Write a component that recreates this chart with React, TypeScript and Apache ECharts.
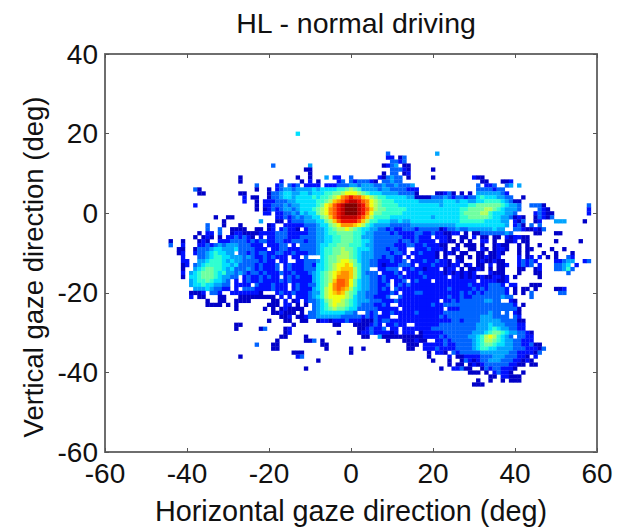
import React, { useEffect, useRef } from "react";
import * as echarts from "echarts";

const titleText = "HL - normal driving";
const xName = "Horizontal gaze direction (deg)";
const yName = "Vertical gaze direction (deg)";
const fontFamily = "Liberation Sans, Arial, sans-serif";
const jetLevels = ["#ffffff","#0000c8","#0010ff","#0064ff","#00a4ff","#00e0ff","#30ffd0","#70ffa0","#b0ff60","#f0ff10","#ffc800","#ff9000","#ff5800","#ee1000","#c00000","#800000"];

// [vertical deg, first horizontal deg, levels (hex, "." = empty)]
const gazeRuns: [number, number, string][] = [
[20,-13,"5"],
[15,9,"3"],[15,21,"4"],
[14,9,"22"],[14,12,"13"],
[13,10,"33"],[13,12,"23"],
[12,-19,"3"],[12,-10,"4"],[12,8,"12"],[12,10,"34"],[12,13,"11"],
[11,-11,"11"],[11,10,"333"],[11,13,"21"],[11,20,"1"],
[10,-10,"1"],[10,8,"1"],[10,10,"33"],[10,13,"12"],
[9,-27,"1"],[9,-13,"1"],[9,-10,"1"],[9,-6,"4"],[9,-4,"22"],[9,0,"3"],[9,7,"21"],[9,9,"3433"],[9,14,"1"],[9,20,"1"],[9,30,"211"],
[8,-27,"1"],[8,-17,"2"],[8,-12,"1"],[8,-10,"2"],[8,-8,"1"],[8,-3,"23"],[8,0,"32333"],[8,5,"21"],[8,8,"33433"],[8,32,"11"],[8,37,"112"],
[7,-23,"3"],[7,-18,"23"],[7,-15,"323"],[7,-11,"2222"],[7,-6,"22233344344"],[7,5,"43343343334"],[7,31,"3"],[7,33,"223"],[7,38,"34"],[7,41,"4"],
[6,-38,"3"],[6,-37,"1"],[6,-23,"1"],[6,-20,"1"],[6,-18,"2"],[6,-17,"34434444545"],[6,-6,"5556678"],[6,1,"7"],[6,2,"64444344333"],[6,13,"3222"],[6,31,"3333233"],
[5,-37,"11"],[5,-27,"11"],[5,-20,"1"],[5,-19,"334554455455"],[5,-7,"566778999876"],[5,5,"55544443333"],[5,16,"1"],[5,21,"11"],[5,23,"231"],[5,27,"1"],[5,29,"1"],[5,31,"44444432"],
[4,-26,"2"],[4,-24,"11"],[4,-20,"1"],[4,-19,"334554555565"],[4,-7,"66789bcdcca987"],[4,7,"665555544"],[4,16,"1111"],[4,20,"33343233233"],[4,31,"565554433"],[4,42,"1"],
[3,-26,"2"],[3,-23,"1"],[3,-21,"22233344555556"],[3,-7,"678abcdeedcb987"],[3,8,"66655555544444455545544556666"],[3,37,"543"],[3,40,"11"],
[2,-38,"2"],[2,-23,"1"],[2,-21,"2233343445555"],[2,-8,"679acdefffedb98"],[2,7,"76666555555555545555556677777765443"],[2,44,"33"],[2,46,"3"],[2,47,"1"],[2,58,"3"],
[1,-23,"1"],[1,-21,"12"],[1,-19,"32344345556"],[1,-8,"789bcdefffedca8"],[1,7,"7766666555555555555566777788765444"],[1,41,"3"],[1,46,"321"],[1,58,"2"],
[0,-21,"22"],[0,-18,"2233435455"],[0,-8,"789bcdefffedb9"],[0,6,"77666665555555555555567777886555443"],[0,45,"23211"],[0,58,"2"],
[-1,-33,"1"],[-1,-30,"11"],[-1,-18,"22323434455"],[-1,-7,"78acdeeeedca8"],[-1,6,"666655555555554555555667777765544"],[-1,39,"3"],[-1,40,"121"],[-1,45,"1"],[-1,46,"32"],[-1,48,"13"],
[-2,-31,"1"],[-2,-22,"4"],[-2,-18,"11"],[-2,-15,"233344455"],[-2,-6,"78acddddca8"],[-2,5,"6655544544555555555555666666555544"],[-2,40,"213"],[-2,45,"1"],[-2,46,"2"],[-2,50,"444"],[-2,57,"1"],
[-3,-35,"3"],[-3,-31,"1"],[-3,-27,"1"],[-3,-20,"1"],[-3,-19,"2"],[-3,-16,"22222"],[-3,-11,"333455"],[-3,-5,"789bbba986"],[-3,5,"5444433333444444444445555555555554"],[-3,40,"231"],[-3,44,"3"],[-3,46,"3"],
[-4,-35,"3"],[-4,-32,"3"],[-4,-29,"1111"],[-4,-23,"11"],[-4,-20,"12"],[-4,-17,"23221"],[-4,-11,"233445"],[-4,-5,"67889876"],[-4,3,"55443323223332333331233433444444544"],[-4,40,"332"],[-4,43,"1121"],[-4,47,"3"],
[-5,-37,"1"],[-5,-35,"22"],[-5,-32,"3"],[-5,-29,"122"],[-5,-26,"11"],[-5,-24,"11"],[-5,-22,"22"],[-5,-20,"223332222"],[-5,-11,"23344"],[-5,-6,"566777766"],[-5,3,"544333323222233223221122"],[-5,28,"1.1133333343"],[-5,45,"11"],[-5,50,"11"],
[-6,-38,"1"],[-6,-36,"121"],[-6,-32,"1"],[-6,-30,"22"],[-6,-28,"323"],[-6,-25,"2"],[-6,-24,"1"],[-6,-22,"2"],[-6,-20,"2"],[-6,-19,"23332223333"],[-6,-8,"44556677766"],[-6,3,"44433333332223222.2221..11.2.11.11.211"],[-6,40,"22"],[-6,42,"11"],
[-7,-44,"1"],[-7,-41,"1"],[-7,-37,"121"],[-7,-32,"2223333232332"],[-7,-19,"23322333"],[-7,-11,"23344556677766554"],[-7,6,"333333233232222.2211.1.1..22.1..11"],[-7,40,"2"],[-7,42,"11"],[-7,50,"1"],[-7,56,"1"],
[-8,-44,"3"],[-8,-41,"2"],[-8,-37,"22323434443332"],[-8,-23,"22"],[-8,-20,"22233"],[-8,-14,"2"],[-8,-12,"333345566777666544"],[-8,6,"333332223322322211..1.111.1."],[-8,35,"1211"],[-8,41,"1"],[-8,43,"1"],[-8,46,"1"],
[-9,-42,"11"],[-9,-38,"1"],[-9,-37,"333455444533"],[-9,-25,"3322"],[-9,-21,"2"],[-9,-19,"22332223"],[-9,-11,"33345667787765554"],[-9,6,"33323322..22232221.12..11.21.1221"],[-9,41,"1"],[-9,43,"11"],[-9,49,"1"],[-9,52,"1"],
[-10,-42,"12"],[-10,-38,"2"],[-10,-37,"334565544"],[-10,-27,"33232332"],[-10,-19,"23322322"],[-10,-11,"2334"],[-10,-7,"5667788765444"],[-10,6,"33332332.2232221.121.11..11.1121"],[-10,41,"1"],[-10,43,"1"],[-10,47,"1"],[-10,50,"1"],[-10,54,"1"],
[-11,-41,"2"],[-11,-37,"334566554443"],[-11,-25,"4322323"],[-11,-18,"222"],[-11,-14,"22"],[-11,-11,"3"],[-11,-7,"5677888765444"],[-11,6,"3323322.2.222221.1..11.1.112112"],[-11,41,"2"],[-11,43,"12"],[-11,46,"2"],[-11,48,"1"],[-11,50,"1"],[-11,53,"32"],
[-12,-41,"22"],[-12,-37,"445666545443333"],[-12,-22,"2322"],[-12,-17,"22"],[-12,-13,"223"],[-12,-10,"334"],[-12,-7,"5677899875443"],[-12,6,"32223223.2223223221.21"],[-12,31,"1211211"],[-12,41,"23232"],[-12,50,"22344"],[-12,57,"23"],
[-13,-41,"12"],[-13,-38,"34566665545333"],[-13,-24,"3232223.23222332"],[-13,-8,"5567899a97644"],[-13,5,"33212223332.2223222122.12.11.2.112"],[-13,41,"2323"],[-13,46,"2"],[-13,50,"3345"],[-13,55,"2"],
[-14,-41,"1"],[-14,-38,"456776654533"],[-14,-26,"3432322"],[-14,-19,"23.23222333"],[-14,-8,"556789aaa8644"],[-14,5,"..22333.223221222.122.1.1121.1"],[-14,36,"11"],[-14,41,"11"],[-14,45,"12"],[-14,50,"33463"],
[-15,-41,"2"],[-15,-39,"45677765644343"],[-15,-25,"23323222"],[-15,-17,"3223222"],[-15,-10,"34"],[-15,-8,"56789abba864"],[-15,4,"333.22232.22232222212121212...2111"],[-15,41,"1"],[-15,45,"1"],[-15,46,"1"],[-15,53,"3"],
[-16,-41,"1"],[-16,-39,"556777654433"],[-16,-26,"2322323"],[-16,-19,"22"],[-16,-16,"2323222"],[-16,-9,"4"],[-16,-8,"56789bbba8644"],[-16,5,"3323222322222322222.22121212112212"],[-16,40,"1"],[-16,46,"1"],
[-17,-39,"4566765543"],[-17,-28,"2"],[-17,-26,"2322"],[-17,-22,"3222232"],[-17,-15,"322222"],[-17,-9,"4"],[-17,-8,"5678accb97544"],[-17,5,"33232.223.23222.2222222222.2222112"],
[-18,-39,"4556554433"],[-18,-28,"22"],[-18,-26,"22"],[-18,-23,"3222322"],[-18,-16,"2.2322"],[-18,-10,"33"],[-18,-8,"5679bccb97544"],[-18,5,"33223.232322222222222222322223332.22"],[-18,44,"111"],
[-19,-38,"444543322"],[-19,-28,"2"],[-19,-26,"3332222"],[-19,-19,"3222"],[-19,-14,"23222"],[-19,-9,"4"],[-19,-8,"5689bcba8654"],[-19,4,"433232"],[-19,11,"3222222222"],[-19,21,"22232222"],[-19,29,"232323333"],[-19,38,"2"],[-19,40,"1"],[-19,42,"11"],[-19,45,"1"],[-19,50,"112"],
[-20,-39,"1112"],[-20,-34,"332"],[-20,-29,"22222221"],[-20,-18,"23"],[-20,-16,"2"],[-20,-15,"232"],[-20,-12,"22"],[-20,-10,"344"],[-20,-7,"689aba87644"],[-20,4,"33322232"],[-20,13,"22233222222"],[-20,24,"2223232323"],[-20,34,"3333"],[-20,38,"2"],[-20,40,"1"],[-20,42,"1"],[-20,44,"3"],[-20,51,"33"],
[-21,-39,"2"],[-21,-37,"11"],[-21,-32,"11"],[-21,-27,"11111111"],[-21,-19,"1"],[-21,-17,"2"],[-21,-15,"2"],[-21,-13,"222"],[-21,-10,"3"],[-21,-9,"4568999987544"],[-21,4,"332223"],[-21,12,"32222222222232232"],[-21,29,"233333334"],[-21,38,"33"],[-21,44,"3"],
[-22,-35,"1"],[-22,-32,"11"],[-22,-28,"1111"],[-22,-19,"11"],[-22,-16,"2"],[-22,-14,"12"],[-22,-11,"23"],[-22,-9,"34578998765444"],[-22,5,"3332223"],[-22,12,"2222222222"],[-22,23,"22323333"],[-22,31,"3344"],[-22,35,"33"],[-22,39,"2"],[-22,40,"1"],
[-23,-35,"1111"],[-23,-30,"1"],[-23,-28,"1"],[-23,-20,"111"],[-23,-16,"22"],[-23,-13,"1"],[-23,-11,"1"],[-23,-9,"3456898876543"],[-23,4,"332232"],[-23,12,"222222223"],[-23,21,"22333333333"],[-23,32,"333333"],[-23,38,"33"],[-23,40,"2"],[-23,42,"1"],
[-24,-28,"1"],[-24,-21,"1"],[-24,-19,"1"],[-24,-17,"1211"],[-24,-13,"11"],[-24,-9,"345678776553"],[-24,3,"33332"],[-24,8,"2222"],[-24,13,"2222222222"],[-24,24,"222333333"],[-24,33,"33333"],[-24,38,"33"],[-24,40,"3"],[-24,41,"1"],
[-25,-19,"112111"],[-25,-12,"1"],[-25,-10,"334555555443"],[-25,4,"323"],[-25,8,"2232"],[-25,12,"2222322222"],[-25,22,"23333333"],[-25,30,"3333433"],[-25,38,"3"],[-25,40,"2"],[-25,41,"1"],
[-26,-17,"112"],[-26,-13,"11"],[-26,-11,"2"],[-26,-10,"33444444333332"],[-26,4,"323222"],[-26,12,"2222222222"],[-26,22,"3233333"],[-26,29,"3334443333"],[-26,40,"3"],[-26,41,"2"],
[-27,-20,"1"],[-27,-16,"11"],[-27,-12,"11"],[-27,-8,"12212223222111"],[-27,6,"3233"],[-27,10,"2222222"],[-27,17,"22222222332"],[-27,28,"3333444443333"],[-27,41,"11"],
[-28,-28,"11"],[-28,-14,"1"],[-28,-4,"11"],[-28,1,"1111"],[-28,5,"232"],[-28,9,"223"],[-28,12,"22"],[-28,16,"222222"],[-28,22,"333333"],[-28,28,"333444544433"],[-28,40,"322"],
[-29,-28,"1"],[-29,-22,"1"],[-29,-21,"3"],[-29,-16,"12"],[-29,2,"112"],[-29,5,"3223"],[-29,10,"22"],[-29,13,"2222222"],[-29,20,"333333"],[-29,26,"33333444565443322"],
[-30,-16,"12"],[-30,-3,"1"],[-30,2,"1"],[-30,3,"22"],[-30,5,"322"],[-30,8,"221"],[-30,11,"2"],[-30,13,"222"],[-30,17,"1222223"],[-30,24,"333333444567765443321"],
[-31,-17,"11"],[-31,-11,"1"],[-31,3,"11"],[-31,7,"4"],[-31,8,"111111"],[-31,14,"1"],[-31,15,"1"],[-31,16,"11"],[-31,18,"22"],[-31,20,"223233"],[-31,26,"33344568986543"],[-31,41,"3322"],
[-32,-18,"1"],[-32,-11,"11"],[-32,-9,"3"],[-32,-7,"1"],[-32,9,"1"],[-32,13,"111"],[-32,16,"2"],[-32,17,"11"],[-32,21,"2232"],[-32,25,"33333"],[-32,30,"4568876544"],[-32,40,"33222"],
[-33,-23,"3"],[-33,-19,"11"],[-33,-7,"11"],[-33,14,"11"],[-33,16,"1"],[-33,18,"2222"],[-33,22,"2322"],[-33,26,"3333"],[-33,30,"4567765544"],[-33,40,"332231"],[-33,46,"1"],
[-34,-19,"11"],[-34,-6,"1"],[-34,0,"1"],[-34,3,"1"],[-34,14,"11"],[-34,18,"222322223"],[-34,27,"3334566554444"],[-34,40,"3332221"],[-34,47,"3"],
[-35,-14,"111"],[-35,0,"1"],[-35,19,"1"],[-35,21,"22"],[-35,23,"1"],[-35,25,"3233333444444"],[-35,38,"4332"],[-35,42,"2221"],[-35,46,"3"],
[-36,-27,"1"],[-36,-13,"23"],[-36,19,"1"],[-36,24,"2"],[-36,26,"1"],[-36,27,"12222"],[-36,32,"3334443"],[-36,39,"332"],[-36,42,"21"],[-36,45,"2"],
[-37,-8,"1"],[-37,20,"1"],[-37,24,"1"],[-37,27,"1"],[-37,28,"3"],[-37,29,"212"],[-37,32,"3344"],[-37,36,"4333"],[-37,40,"22"],[-37,42,"1"],[-37,43,"21"],
[-38,24,"1"],[-38,26,"11"],[-38,29,"121"],[-38,32,"233"],[-38,35,"3333"],[-38,39,"221"],[-38,42,"1"],[-38,44,"11"],
[-39,-11,"1"],[-39,22,"1"],[-39,25,"223"],[-39,28,"11"],[-39,32,"13"],[-39,34,"2332"],[-39,38,"22"],[-39,40,"1"],
[-40,29,"111"],[-40,33,"1"],[-40,35,"2322"],[-40,39,"1"],[-40,42,"1"],
[-41,34,"11"],[-41,37,"22"],[-41,39,"111"],
[-42,31,"1"],[-42,34,"1"],[-42,37,"1"],[-42,39,"111"],
[-43,30,"111"],
];

const xTicks = { min: -60, max: 60, interval: 20 };
const yTicks = { min: -60, max: 40, interval: 20 };

function buildCells(): number[][] {
  const cells: number[][] = [];
  gazeRuns.forEach(([y, x0, levels]) => {
    for (let i = 0; i < levels.length; i++) {
      const level = parseInt(levels[i], 16);
      if (!Number.isNaN(level)) cells.push([x0 + i, y, level]);
    }
  });
  return cells;
}

export default function App() {
  const ref = useRef<HTMLDivElement>(null);
  useEffect(() => {
    document.body.style.margin = "0";
    const chart = echarts.init(ref.current!, undefined, { renderer: "svg" });
    const line = { show: true, onZero: false, lineStyle: { color: "#6e6e6e", width: 2 } };
    const tick = { show: true, inside: true, length: 4, lineStyle: { color: "#555", width: 1 } };
    const label = { color: "#111", fontSize: 28, fontFamily };
    chart.setOption({
      animation: false,
      backgroundColor: "#fff",
      title: {
        text: titleText, left: 351, top: 3, textAlign: "center",
        textStyle: { color: "#111", fontSize: 28.5, fontWeight: "normal", fontFamily },
      },
      grid: { left: 105, top: 54, width: 492, height: 398, containLabel: false },
      graphic: [
        {
          type: "text", x: 33, y: 267, rotation: Math.PI / 2,
          style: { text: yName, fill: "#111", fontSize: 27.5, fontFamily, align: "center", verticalAlign: "middle" },
        },
      ],
      xAxis: [
        {
          type: "value", ...xTicks, position: "bottom", axisLine: line, axisTick: tick, splitLine: { show: false },
          axisLabel: { ...label, margin: 7, showMinLabel: true, showMaxLabel: true, hideOverlap: false },
          name: xName, nameLocation: "middle", nameGap: 44,
          nameTextStyle: { color: "#111", fontSize: 28.8, fontFamily },
        },
        { type: "value", ...xTicks, position: "top", axisLine: line, axisTick: tick, axisLabel: { show: false }, splitLine: { show: false } },
      ],
      yAxis: [
        {
          type: "value", ...yTicks, position: "left", axisLine: line, axisTick: tick, splitLine: { show: false },
          axisLabel: { ...label, margin: 7, showMinLabel: true, showMaxLabel: true, hideOverlap: false },
        },
        { type: "value", ...yTicks, position: "right", axisLine: line, axisTick: tick, axisLabel: { show: false }, splitLine: { show: false } },
      ],
      series: [
        {
          type: "custom",
          coordinateSystem: "cartesian2d",
          xAxisIndex: 0,
          yAxisIndex: 0,
          encode: { x: 0, y: 1 },
          data: buildCells(),
          renderItem: (_p: any, api: any) => {
            const c = api.coord([api.value(0), api.value(1)]);
            const s = api.size([1, 1]);
            return {
              type: "rect",
              shape: { x: c[0] - s[0] / 2, y: c[1] - s[1] / 2, width: s[0] + 0.3, height: s[1] + 0.3 },
              style: { fill: jetLevels[api.value(2)] },
            };
          },
        },
      ],
    });
    return () => chart.dispose();
  }, []);
  return <div ref={ref} style={{ width: 619, height: 531 }} />;
}
